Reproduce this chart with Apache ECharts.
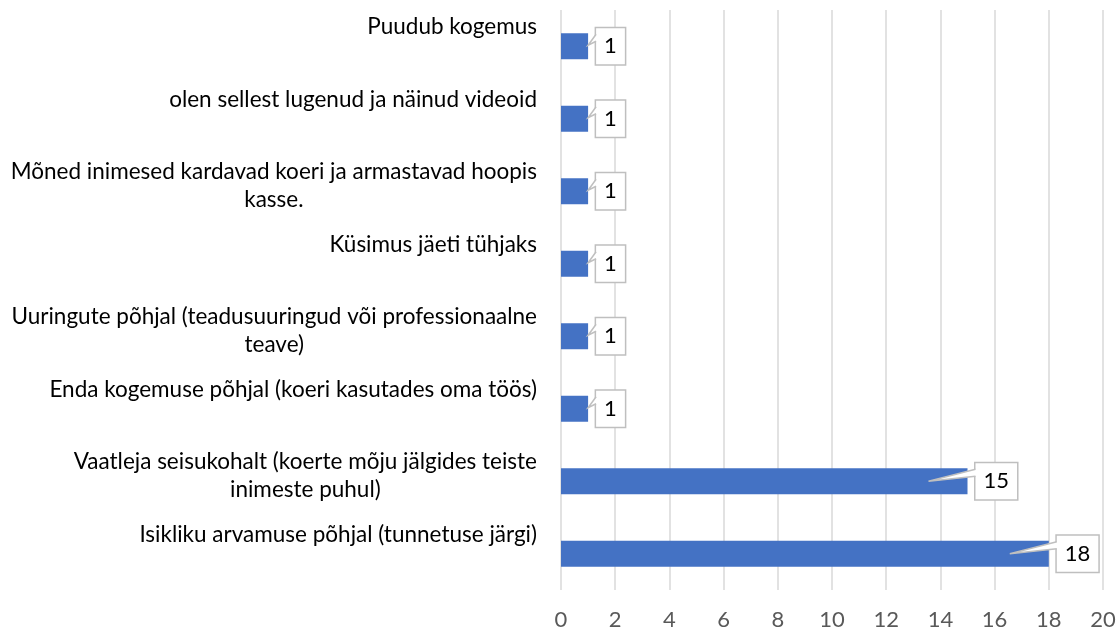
<!DOCTYPE html>
<html>
<head>
<meta charset="utf-8">
<script src="https://cdn.jsdelivr.net/npm/echarts@6/dist/echarts.min.js"></script>
<style>
	html, body { margin: 0; padding: 0; background: #fff; }
	#chart { width: 1119px; height: 632px; }
</style>
</head>
<body>
<div id="chart"></div>
<script>
	// kategooriad ülevalt alla, pikad read murtud nagu originaalis
	var categories = [
		'Puudub kogemus',
		'olen sellest lugenud ja näinud videoid',
		'Mõned inimesed kardavad koeri ja armastavad hoopis\nkasse.',
		'Küsimus jäeti tühjaks',
		'Uuringute põhjal (teadusuuringud või professionaalne\nteave)',
		'Enda kogemuse põhjal (koeri kasutades oma töös)',
		'Vaatleja seisukohalt (koerte mõju jälgides teiste\ninimeste puhul)',
		'Isikliku arvamuse põhjal (tunnetuse järgi)'
	]
	var values = [1, 1, 1, 1, 1, 1, 15, 18]
	var xMin = 0
	var xMax = 20
	var xStep = 2

	var font = 'Lato, "Open Sans", sans-serif'
	var labelGap = 8 // sildikasti kaugus riba otsast

	var myChart = echarts.init(document.getElementById('chart'))

	// Exceli "callout" sildi nokk
	function drawPointer(params, api) {
		var v = api.value(0)
		var idx = api.value(1)
		var end = api.coord([v, idx])
		var cy = end[1]
		var boxLeft = end[0] + labelGap
		var tipX = v > 2 ? end[0] - 39 : end[0]
		var tipY = v > 2 ? cy : cy - 1
		var b1 = cy - 12
		var b2 = cy - 5
		return {
			type: 'group',
			children: [{
					type: 'polygon',
					shape: { points: [[boxLeft + 2.5, b1], [boxLeft, b1], [tipX, tipY], [boxLeft, b2], [boxLeft + 2.5, b2]] },
					style: { fill: '#fff' }
				},
				{
					type: 'polyline',
					shape: { points: [[boxLeft, b1], [tipX, tipY], [boxLeft, b2]] },
					style: { stroke: '#bfbfbf', lineWidth: 1.5, fill: null }
				}
			]
		}
	}

	var option = {
		animation: false,
		grid: {
			left: 561,
			right: 16,
			top: 10,
			bottom: 42,
			containLabel: false
		},
		xAxis: {
			type: 'value',
			min: xMin,
			max: xMax,
			interval: xStep,
			axisLine: { show: false },
			axisTick: { show: false },
			splitLine: { show: true, lineStyle: { color: '#d9d9d9', width: 1.5 } },
			axisLabel: {
				margin: 19,
				fontFamily: font,
				fontSize: 22,
				color: '#595959'
			}
		},
		yAxis: [{
				type: 'category',
				inverse: true,
				data: categories,
				axisLine: { show: false },
				axisTick: { show: false },
				axisLabel: { show: false }
			},
			{
				// ainult siltide jaoks: sildid on kategooria riba ülaservas
				type: 'value',
				inverse: true,
				min: 0,
				max: categories.length,
				interval: 1,
				position: 'left',
				axisLine: { show: false },
				axisTick: { show: false },
				splitLine: { show: false },
				axisLabel: {
					showMinLabel: true,
					showMaxLabel: true,
					margin: 24,
					align: 'right',
					verticalAlign: 'top',
					padding: [3, 0, 0, 0],
					fontFamily: font,
					fontSize: 22.5,
					lineHeight: 28,
					color: '#000',
					formatter: function(v) {
						var name = categories[v]
						if (!name) return ''
						return name.split('\n').map(function(s) {
							return '{c|' + s + '}'
						}).join('\n')
					},
					rich: {
						c: {
							align: 'center',
							fontFamily: font,
							fontSize: 22.5,
							lineHeight: 28,
							color: '#000'
						}
					}
				}
			}
		],
		series: [{
				type: 'bar',
				yAxisIndex: 0,
				data: values,
				barWidth: 26,
				itemStyle: { color: '#4472c4' },
				label: {
					show: true,
					position: 'right',
					distance: labelGap,
					fontFamily: font,
					fontSize: 22,
					lineHeight: 28,
					color: '#000',
					backgroundColor: '#fff',
					borderColor: '#bfbfbf',
					borderWidth: 1.5,
					padding: [4, 8, 4, 8]
				}
			},
			{
				type: 'custom',
				yAxisIndex: 0,
				z: 5,
				silent: true,
				renderItem: drawPointer,
				encode: { x: 0, y: 1 },
				data: values.map(function(v, i) { return [v, i] })
			}
		]
	}

	myChart.setOption(option)
</script>
</body>
</html>
